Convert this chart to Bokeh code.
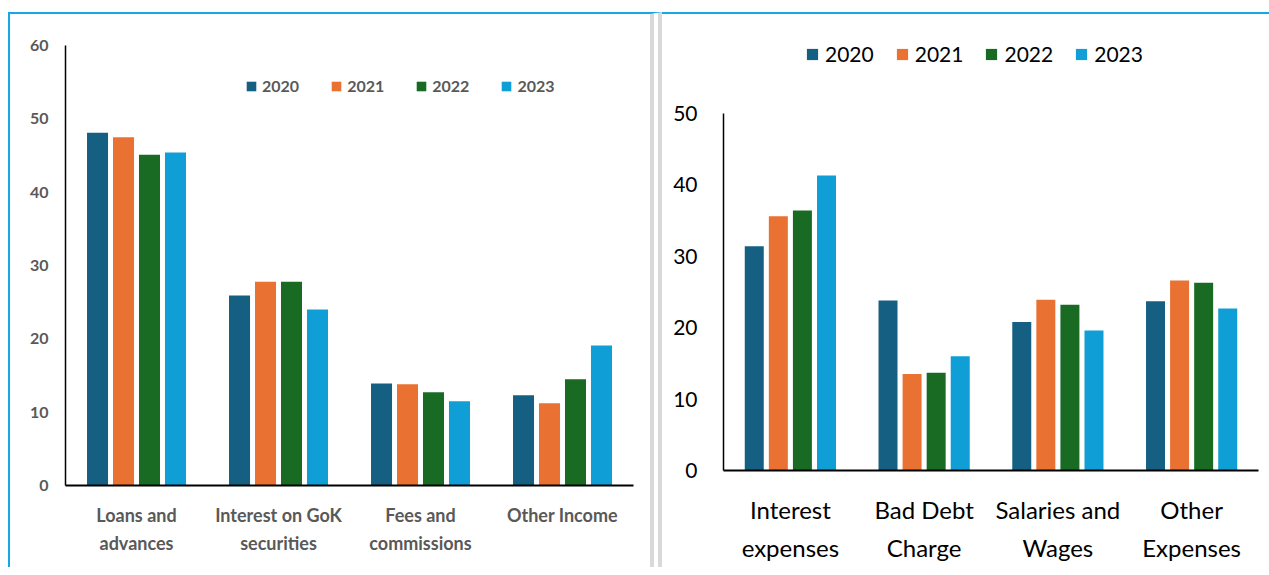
from bokeh.plotting import figure
from bokeh.models import ColumnDataSource, FactorRange, Range1d, Legend, LegendItem, FixedTicker
from bokeh.transform import dodge
from bokeh.embed import file_html
from bokeh.resources import INLINE

# ---------------- data ----------------
years = ["2020", "2021", "2022", "2023"]
colors = ["#156082", "#E97132", "#196B24", "#0F9ED5"]

income_categories = ["Loans and\nadvances", "Interest on GoK\nsecurities", "Fees and\ncommissions", "Other Income"]
income_2020 = [48.1, 25.9, 13.9, 12.3]
income_2021 = [47.5, 27.8, 13.8, 11.2]
income_2022 = [45.1, 27.8, 12.7, 14.5]
income_2023 = [45.4, 24.0, 11.5, 19.1]
income_ticks = [0, 10, 20, 30, 40, 50, 60]

expense_categories = ["Interest\nexpenses", "Bad Debt\nCharge", "Salaries and\nWages", "Other\nExpenses"]
expense_2020 = [31.4, 23.8, 20.8, 23.7]
expense_2021 = [35.6, 13.5, 23.9, 26.6]
expense_2022 = [36.4, 13.7, 23.2, 26.3]
expense_2023 = [41.3, 16.0, 19.6, 22.7]
expense_ticks = [0, 10, 20, 30, 40, 50]

BLUE_LINE = "#14A8E8"
GRAY_LINE = "#D9D9D9"


def make_chart(cats, series, ticks, ymax, yview, width, height, borders, bar_w, pitch,
               tick_font, tick_color, tick_style, tick_size, cat_size, line_h,
               x_standoff, y_standoff, leg_loc, leg_font, leg_glyph, leg_spacing, leg_standoff):
    data = {"cat": cats}
    for y, s in zip(years, series):
        data["y" + y] = s
    src = ColumnDataSource(data)
    p = figure(x_range=FactorRange(*cats, range_padding=0), y_range=Range1d(0, yview),
               width=width, height=height, output_backend="svg", toolbar_location=None,
               min_border_left=borders[0], min_border_right=borders[1],
               min_border_top=borders[2], min_border_bottom=borders[3])
    p.outline_line_color = None
    p.grid.visible = False
    offs = [(-1.5 + i) * pitch for i in range(4)]
    items = []
    for i, y in enumerate(years):
        r = p.vbar(x=dodge("cat", offs[i], range=p.x_range), top="y" + y, width=bar_w,
                   source=src, color=colors[i], line_color=None)
        items.append(LegendItem(label=y, renderers=[r]))
    # axes
    p.yaxis.ticker = FixedTicker(ticks=ticks)
    p.yaxis.bounds = (0, ymax)
    for ax in (p.xaxis[0], p.yaxis[0]):
        ax.major_tick_line_color = None
        ax.minor_tick_line_color = None
        ax.axis_line_color = "black"
        ax.major_label_text_font = tick_font
        ax.major_label_text_color = tick_color
        ax.major_label_text_font_style = tick_style
    p.yaxis.axis_line_width = 1.5
    p.xaxis.axis_line_width = 2
    p.yaxis.major_label_text_font_size = tick_size
    p.xaxis.major_label_text_font_size = cat_size
    p.xaxis.major_label_text_line_height = line_h
    p.xaxis.major_label_standoff = x_standoff
    p.yaxis.major_label_standoff = y_standoff
    leg = Legend(items=items, orientation="horizontal", location=leg_loc,
                 border_line_color=None, background_fill_alpha=0, padding=0, margin=0,
                 glyph_width=leg_glyph, glyph_height=leg_glyph, label_standoff=leg_standoff,
                 spacing=leg_spacing, label_text_font=tick_font, label_text_font_size=leg_font,
                 label_text_color=tick_color, label_text_font_style=tick_style,
                 label_height=leg_glyph)
    p.add_layout(leg)
    return p


left = make_chart(income_categories,
                  [income_2020, income_2021, income_2022, income_2023],
                  income_ticks, 60, 60, 654, 555, (55, 31, 31, 84), 0.148, 0.183,
                  "Lato", "#595959", "bold", "16px", "18px", 1.28, 12, 11,
                  (180, 390), "16px", 12, 31, 5)
left.styles = {"position": "absolute", "left": "8px", "top": "12px",
               "border-top": "2px solid " + BLUE_LINE,
               "border-left": "2px solid " + BLUE_LINE,
               "border-right": "12px double " + GRAY_LINE}

# right frame extends above the 0-50 axis so the legend sits inside it
right_view_top = 50 * (470 - 34) / (470 - 113)
right = make_chart(expense_categories,
                   [expense_2020, expense_2021, expense_2022, expense_2023],
                   expense_ticks, 50, right_view_top, 607, 555, (61, 11, 20, 99), 0.142, 0.18,
                   "Lato", "#000000", "normal", "21px", "24px", 1.33, 18, 20,
                   (82, 404), "21px", 14, 21, 6)
right.styles = {"position": "absolute", "left": "662px", "top": "12px",
                "border-top": "2px solid " + BLUE_LINE}

open("out.html", "w").write(file_html([left, right], INLINE))
